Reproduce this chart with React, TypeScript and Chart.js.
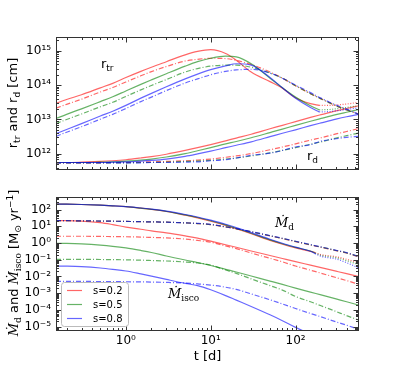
import { useEffect, useRef } from "react";
import { Chart, registerables } from "chart.js";
Chart.register(...registerables);

// ---------- data ----------
const tSolid = [0.15, 0.2, 0.3, 0.5, 0.7, 1, 1.5, 2, 3, 5, 7, 10, 15, 20, 30, 50, 70, 100, 150, 190];
const tFull = [0.15, 0.2, 0.3, 0.5, 0.7, 1, 1.5, 2, 3, 5, 7, 10, 15, 20, 30, 50, 70, 100, 150, 200, 300, 400, 560];
const tTail = [190, 250, 300, 400, 560];
const tSolidM = [0.15, 0.2, 0.3, 0.5, 0.7, 1, 1.5, 2, 3, 5, 7, 10, 15, 20, 30, 50, 70, 100, 150, 170];
const tTailM = [170, 200, 300, 400, 560];

// top panel: log10 radius [cm]
const rtrSolidRed = [13.47, 13.58, 13.72, 13.92, 14.05, 14.22, 14.4, 14.52, 14.68, 14.88, 14.98, 15.03, 14.92, 14.72, 14.38, 14.1, 13.91, 13.63, 13.46, 13.41];
const rtrSolidGreen = [13.03, 13.15, 13.31, 13.52, 13.66, 13.83, 14.02, 14.15, 14.33, 14.55, 14.68, 14.78, 14.84, 14.82, 14.62, 14.2, 13.92, 13.65, 13.4, 13.28];
const rtrSolidBlue = [12.59, 12.71, 12.88, 13.1, 13.24, 13.41, 13.62, 13.76, 13.95, 14.18, 14.32, 14.45, 14.56, 14.62, 14.58, 14.22, 13.92, 13.62, 13.35, 13.22];
const rtrDashRed = [13.33, 13.44, 13.59, 13.8, 13.93, 14.09, 14.27, 14.39, 14.54, 14.7, 14.75, 14.78, 14.77, 14.72, 14.6, 14.38, 14.2, 13.98, 13.75, 13.6, 13.4, 13.28, 13.15];
const rtrDashGreen = [12.88, 13.0, 13.16, 13.37, 13.5, 13.67, 13.86, 13.99, 14.16, 14.38, 14.48, 14.55, 14.58, 14.58, 14.52, 14.35, 14.2, 13.98, 13.75, 13.6, 13.4, 13.28, 13.15];
const rtrDashBlue = [12.51, 12.63, 12.79, 13.01, 13.15, 13.32, 13.52, 13.65, 13.84, 14.06, 14.18, 14.3, 14.4, 14.44, 14.46, 14.35, 14.2, 14.0, 13.78, 13.62, 13.42, 13.3, 13.15];
const rtrTailRed = [13.41, 13.41, 13.42, 13.45, 13.5];
const rtrTailGreen = [13.28, 13.29, 13.31, 13.35, 13.4];
const rtrTailBlue = [13.22, 13.23, 13.25, 13.29, 13.34];
const rdSolidRed = [11.75, 11.75, 11.76, 11.78, 11.8, 11.83, 11.88, 11.92, 11.99, 12.1, 12.18, 12.27, 12.38, 12.46, 12.57, 12.73, 12.83, 12.94, 13.06, 13.14, 13.25, 13.32, 13.4];
const rdSolidGreen = [11.75, 11.75, 11.75, 11.76, 11.77, 11.79, 11.82, 11.85, 11.91, 12.01, 12.09, 12.18, 12.29, 12.36, 12.47, 12.62, 12.72, 12.83, 12.95, 13.03, 13.14, 13.21, 13.29];
const rdSolidBlue = [11.75, 11.75, 11.75, 11.75, 11.76, 11.77, 11.79, 11.81, 11.85, 11.93, 12.0, 12.08, 12.18, 12.25, 12.35, 12.5, 12.6, 12.7, 12.82, 12.9, 13.01, 13.08, 13.15];
const rdDashRed = [11.74, 11.74, 11.74, 11.74, 11.75, 11.75, 11.76, 11.77, 11.78, 11.8, 11.82, 11.85, 11.9, 11.94, 12.01, 12.12, 12.2, 12.29, 12.4, 12.47, 12.58, 12.65, 12.74];
const rdDashGreen = [11.74, 11.74, 11.74, 11.74, 11.74, 11.74, 11.75, 11.75, 11.76, 11.78, 11.79, 11.81, 11.85, 11.88, 11.94, 12.03, 12.1, 12.18, 12.28, 12.35, 12.46, 12.53, 12.61];
const rdDashBlue = [11.74, 11.74, 11.74, 11.74, 11.74, 11.74, 11.74, 11.75, 11.75, 11.76, 11.77, 11.8, 11.83, 11.88, 11.96, 12.02, 12.1, 12.2, 12.27, 12.37, 12.44, 12.48, 12.51];

// bottom panel: log10 rate [Msun/yr]
const mdSolidRed = [2.33, 2.32, 2.3, 2.26, 2.22, 2.17, 2.08, 2.01, 1.88, 1.66, 1.5, 1.3, 1.05, 0.85, 0.55, 0.15, -0.08, -0.3, -0.5, -0.58];
const mdSolidGreen = [2.33, 2.32, 2.3, 2.26, 2.22, 2.17, 2.08, 2.01, 1.89, 1.68, 1.52, 1.33, 1.08, 0.88, 0.58, 0.18, -0.05, -0.27, -0.48, -0.6];
const mdSolidBlue = [2.33, 2.32, 2.3, 2.26, 2.22, 2.17, 2.09, 2.02, 1.9, 1.7, 1.55, 1.36, 1.12, 0.92, 0.62, 0.22, -0.02, -0.25, -0.5, -0.64];
const mdTailRed = [-0.58, -0.7, -0.82, -0.98, -1.18];
const mdTailGreen = [-0.6, -0.74, -0.88, -1.06, -1.3];
const mdTailBlue = [-0.64, -0.8, -0.96, -1.18, -1.5];
const mdDashRed = [1.33, 1.33, 1.32, 1.31, 1.3, 1.29, 1.27, 1.26, 1.24, 1.2, 1.16, 1.1, 0.95, 0.84, 0.66, 0.42, 0.26, 0.08, -0.12, -0.26, -0.46, -0.6, -0.84];
const mdDashGreen = [1.33, 1.33, 1.32, 1.31, 1.3, 1.29, 1.27, 1.26, 1.24, 1.2, 1.16, 1.1, 0.96, 0.85, 0.67, 0.43, 0.27, 0.09, -0.11, -0.25, -0.45, -0.59, -0.83];
const mdDashBlue = [1.33, 1.33, 1.32, 1.31, 1.3, 1.29, 1.27, 1.26, 1.24, 1.2, 1.17, 1.11, 0.97, 0.86, 0.68, 0.44, 0.28, 0.1, -0.1, -0.24, -0.44, -0.58, -0.82];
const miSolidRed = [1.33, 1.33, 1.31, 1.22, 1.1, 0.95, 0.82, 0.72, 0.6, 0.42, 0.29, 0.11, -0.11, -0.26, -0.48, -0.75, -0.93, -1.12, -1.33, -1.48, -1.69, -1.84, -2.02];
const miDashRed = [0.4, 0.4, 0.4, 0.39, 0.38, 0.37, 0.35, 0.33, 0.3, 0.23, 0.15, 0.04, -0.18, -0.34, -0.6, -0.92, -1.13, -1.38, -1.63, -1.81, -2.07, -2.25, -2.48];
const miSolidGreen = [-0.02, -0.03, -0.06, -0.13, -0.2, -0.3, -0.45, -0.57, -0.78, -1.02, -1.17, -1.35, -1.58, -1.74, -1.98, -2.28, -2.48, -2.7, -2.94, -3.11, -3.35, -3.52, -3.72];
const miDashGreen = [-0.98, -0.98, -0.98, -0.99, -1.0, -1.01, -1.03, -1.05, -1.08, -1.14, -1.2, -1.32, -1.62, -1.82, -2.15, -2.55, -2.82, -3.2, -3.52, -3.76, -4.1, -4.35, -4.62];
const miSolidBlue = [-1.38, -1.39, -1.42, -1.5, -1.58, -1.68, -1.85, -1.98, -2.18, -2.42, -2.55, -2.8, -3.15, -3.42, -3.8, -4.3, -4.65, -5.05, -5.45, -5.7, -6.1, -6.3, -6.6];
const miDashBlue = [-2.3, -2.3, -2.3, -2.31, -2.31, -2.32, -2.33, -2.34, -2.36, -2.4, -2.45, -2.52, -2.65, -2.78, -3.05, -3.4, -3.65, -3.92, -4.22, -4.42, -4.72, -4.92, -5.18];

const xTicks = [1, 10, 100];
const topTicks = [1e12, 1e13, 1e14, 1e15];
const botTicks = [1e-5, 1e-4, 1e-3, 1e-2, 1e-1, 1, 10, 100];
const legendLabels = ["s=0.2", "s=0.5", "s=0.8"];

const RED = "rgba(255,0,0,0.6)";
const GREEN = "rgba(0,128,0,0.6)";
const BLUE = "rgba(0,0,255,0.6)";
const DASHDOT = [5, 2, 1, 2];
const DOT = [1, 1.6];

const X_MIN = 0.15, X_MAX = 560;
const TOP_MIN = 3.4e11, TOP_MAX = 2.5e15;
const BOT_MIN = 5.4e-6, BOT_MAX = 560;

const SUP: Record<string, string> = { "0": "⁰", "1": "¹", "2": "²", "3": "³", "4": "⁴", "5": "⁵", "6": "⁶", "7": "⁷", "8": "⁸", "9": "⁹", "-": "⁻" };
const pow10Label = (v: number) => "10" + String(Math.round(Math.log10(v))).split("").map((c) => SUP[c]).join("");

const series = (ts: number[], logs: number[]) => ts.map((t, i) => ({ x: t, y: Math.pow(10, logs[i]) }));
const ds = (ts: number[], logs: number[], color: string, dash: number[] = []) => ({
  data: series(ts, logs),
  borderColor: color,
  borderWidth: 1.2,
  borderDash: dash,
  pointRadius: 0,
  fill: false,
  cubicInterpolationMode: "monotone" as const,
});

type Seg = { t: string; f: string; dy?: number };
function drawRich(ctx: CanvasRenderingContext2D, segs: Seg[], x: number, y: number, center: boolean, rot = 0) {
  ctx.save();
  ctx.translate(x, y);
  ctx.rotate(rot);
  ctx.textBaseline = "alphabetic";
  ctx.textAlign = "left";
  let w = 0;
  for (const s of segs) {
    ctx.font = s.f;
    w += ctx.measureText(s.t).width;
  }
  let cx = center ? -w / 2 : 0;
  ctx.fillStyle = "#000";
  for (const s of segs) {
    ctx.font = s.f;
    ctx.fillText(s.t, cx, s.dy || 0);
    cx += ctx.measureText(s.t).width;
  }
  ctx.restore();
}

const SANS = "'DejaVu Sans'";
const SERIF = "'DejaVu Serif'";

const frameTicks = {
  id: "frameTicks",
  afterDraw(chart: any) {
    const { ctx, chartArea: a, scales } = chart;
    ctx.save();
    ctx.strokeStyle = "#333";
    ctx.lineWidth = 1;
    const L = Math.round(a.left) + 0.5, R = Math.round(a.right) - 0.5, T = Math.round(a.top) + 0.5, B = Math.round(a.bottom) - 0.5;
    ctx.strokeRect(L, T, R - L, B - T);
    const each = (scale: any, fn: (p: number, major: boolean) => void) => {
      const lo = Math.floor(Math.log10(scale.min)), hi = Math.ceil(Math.log10(scale.max));
      for (let e = lo; e <= hi; e++)
        for (let k = 1; k < 10; k++) {
          const v = k * Math.pow(10, e);
          if (v < scale.min || v > scale.max) continue;
          fn(Math.round(scale.getPixelForValue(v)) + 0.5, k === 1);
        }
    };
    ctx.beginPath();
    each(scales.x, (p, m) => {
      const len = m ? 5 : 2.5;
      ctx.moveTo(p, B); ctx.lineTo(p, B - len);
      ctx.moveTo(p, T); ctx.lineTo(p, T + len);
    });
    each(scales.y, (p, m) => {
      const len = m ? 5 : 2.5;
      ctx.moveTo(L, p); ctx.lineTo(L + len, p);
      ctx.moveTo(R, p); ctx.lineTo(R - len, p);
    });
    ctx.stroke();
    ctx.restore();
  },
};

const topText = {
  id: "topText",
  afterDraw(chart: any) {
    const ctx = chart.ctx;
    drawRich(ctx, [
      { t: "r", f: `13px ${SANS}` },
      { t: "tr", f: `9px ${SANS}`, dy: 3 },
      { t: " and r", f: `13px ${SANS}` },
      { t: "d", f: `9px ${SANS}`, dy: 3 },
      { t: " [cm]", f: `13px ${SANS}` },
    ], 17, 103, true, -Math.PI / 2);
    drawRich(ctx, [
      { t: "r", f: `13px ${SANS}` },
      { t: "tr", f: `9px ${SANS}`, dy: 3 },
    ], 101, 68, false);
    drawRich(ctx, [
      { t: "r", f: `13px ${SANS}` },
      { t: "d", f: `9px ${SANS}`, dy: 3 },
    ], 307, 160, false);
  },
};

const botText = {
  id: "botText",
  afterDraw(chart: any) {
    const ctx = chart.ctx;
    drawRich(ctx, [
      { t: "Ṁ", f: `italic 13px ${SERIF}` },
      { t: "d", f: `9px ${SERIF}`, dy: 3 },
      { t: " and ", f: `13px ${SANS}` },
      { t: "Ṁ", f: `italic 13px ${SERIF}` },
      { t: "isco", f: `9px ${SERIF}`, dy: 3 },
      { t: " [M", f: `13px ${SANS}` },
      { t: "⊙", f: `9px ${SANS}`, dy: 3 },
      { t: " yr", f: `13px ${SANS}` },
      { t: "−1", f: `9px ${SANS}`, dy: -5 },
      { t: "]", f: `13px ${SANS}` },
    ], 18, 263, true, -Math.PI / 2);
    drawRich(ctx, [
      { t: "Ṁ", f: `italic 13px ${SERIF}` },
      { t: "d", f: `9px ${SERIF}`, dy: 3 },
    ], 275, 227, false);
    drawRich(ctx, [
      { t: "Ṁ", f: `italic 13px ${SERIF}` },
      { t: "isco", f: `9px ${SERIF}`, dy: 3 },
    ], 168, 298, false);
    // legend
    const colors = [RED, GREEN, BLUE];
    ctx.save();
    const bx = 61.5, by = 282.5, bw = 67, bh = 44, r = 3;
    ctx.beginPath();
    ctx.moveTo(bx + r, by);
    ctx.arcTo(bx + bw, by, bx + bw, by + bh, r);
    ctx.arcTo(bx + bw, by + bh, bx, by + bh, r);
    ctx.arcTo(bx, by + bh, bx, by, r);
    ctx.arcTo(bx, by, bx + bw, by, r);
    ctx.closePath();
    ctx.fillStyle = "rgba(255,255,255,0.85)";
    ctx.fill();
    ctx.strokeStyle = "#bbb";
    ctx.lineWidth = 1;
    ctx.stroke();
    legendLabels.forEach((lab, i) => {
      const y = 290 + i * 14;
      ctx.beginPath();
      ctx.strokeStyle = colors[i];
      ctx.lineWidth = 1.2;
      ctx.moveTo(67, y + 0.5);
      ctx.lineTo(82, y + 0.5);
      ctx.stroke();
      ctx.fillStyle = "#000";
      ctx.font = `10px ${SANS}`;
      ctx.textBaseline = "middle";
      ctx.fillText(lab, 93, y + 1);
    });
    ctx.restore();
  },
};

function makeOptions(top: boolean) {
  return {
    responsive: false,
    animation: false as const,
    events: [] as any[],
    layout: { padding: top ? { top: 37, right: 40, left: 0, bottom: 0 } : { top: 197, right: 40, left: 0, bottom: 0 } },
    plugins: { legend: { display: false }, tooltip: { enabled: false } },
    scales: {
      x: {
        type: "logarithmic" as const,
        min: X_MIN,
        max: X_MAX,
        grid: { display: false, drawTicks: false },
        border: { display: false },
        afterBuildTicks: (s: any) => { s.ticks = xTicks.map((v) => ({ value: v, major: true })); },
        afterFit: (s: any) => { s.height = top ? 368 - 170 : 37; },
        ticks: {
          display: !top,
          autoSkip: false,
          maxRotation: 0,
          padding: 3,
          color: "#000",
          font: { family: "DejaVu Sans", size: 12 },
          callback: (v: any) => pow10Label(Number(v)),
        },
        title: top ? { display: false } : { display: true, text: "t [d]", color: "#000", font: { family: "DejaVu Sans", size: 13 }, padding: { top: 0, bottom: 4 } },
      },
      y: {
        type: "logarithmic" as const,
        min: top ? TOP_MIN : BOT_MIN,
        max: top ? TOP_MAX : BOT_MAX,
        grid: { display: false, drawTicks: false },
        border: { display: false },
        afterBuildTicks: (s: any) => { s.ticks = (top ? topTicks : botTicks).map((v) => ({ value: v, major: true })); },
        afterFit: (s: any) => { s.width = 56; },
        ticks: {
          autoSkip: false,
          padding: 5,
          color: "#000",
          font: { family: "DejaVu Sans", size: 12 },
          callback: (v: any) => pow10Label(Number(v)),
        },
      },
    },
  };
}

export default function App() {
  const topRef = useRef<HTMLCanvasElement>(null);
  const botRef = useRef<HTMLCanvasElement>(null);
  useEffect(() => {
    // first dataset is painted last (on top): blue first so it lies over green and red
    const topChart = new Chart(topRef.current!, {
      type: "line",
      data: {
        datasets: [
          ds(tSolid, rtrSolidBlue, BLUE), ds(tFull, rtrDashBlue, BLUE, DASHDOT), ds(tTail, rtrTailBlue, BLUE, DOT),
          ds(tFull, rdSolidBlue, BLUE), ds(tFull, rdDashBlue, BLUE, DASHDOT),
          ds(tSolid, rtrSolidGreen, GREEN), ds(tFull, rtrDashGreen, GREEN, DASHDOT), ds(tTail, rtrTailGreen, GREEN, DOT),
          ds(tFull, rdSolidGreen, GREEN), ds(tFull, rdDashGreen, GREEN, DASHDOT),
          ds(tSolid, rtrSolidRed, RED), ds(tFull, rtrDashRed, RED, DASHDOT), ds(tTail, rtrTailRed, RED, DOT),
          ds(tFull, rdSolidRed, RED), ds(tFull, rdDashRed, RED, DASHDOT),
        ],
      },
      options: makeOptions(true) as any,
      plugins: [frameTicks, topText],
    });
    const botChart = new Chart(botRef.current!, {
      type: "line",
      data: {
        datasets: [
          ds(tSolidM, mdSolidBlue, BLUE), ds(tTailM, mdTailBlue, BLUE, DOT), ds(tFull, mdDashBlue, BLUE, DASHDOT),
          ds(tFull, miSolidBlue, BLUE), ds(tFull, miDashBlue, BLUE, DASHDOT),
          ds(tSolidM, mdSolidGreen, GREEN), ds(tTailM, mdTailGreen, GREEN, DOT), ds(tFull, mdDashGreen, GREEN, DASHDOT),
          ds(tFull, miSolidGreen, GREEN), ds(tFull, miDashGreen, GREEN, DASHDOT),
          ds(tSolidM, mdSolidRed, RED), ds(tTailM, mdTailRed, RED, DOT), ds(tFull, mdDashRed, RED, DASHDOT),
          ds(tFull, miSolidRed, RED), ds(tFull, miDashRed, RED, DASHDOT),
        ],
      },
      options: makeOptions(false) as any,
      plugins: [frameTicks, botText],
    });
    return () => { topChart.destroy(); botChart.destroy(); };
  }, []);
  const cs: React.CSSProperties = { position: "absolute", left: 0, top: 0, display: "block" };
  return (
    <div style={{ position: "fixed", left: 0, top: 0, width: 399, height: 368, background: "#fff" }}>
      <canvas ref={topRef} width={399} height={368} style={cs} />
      <canvas ref={botRef} width={399} height={368} style={cs} />
    </div>
  );
}
